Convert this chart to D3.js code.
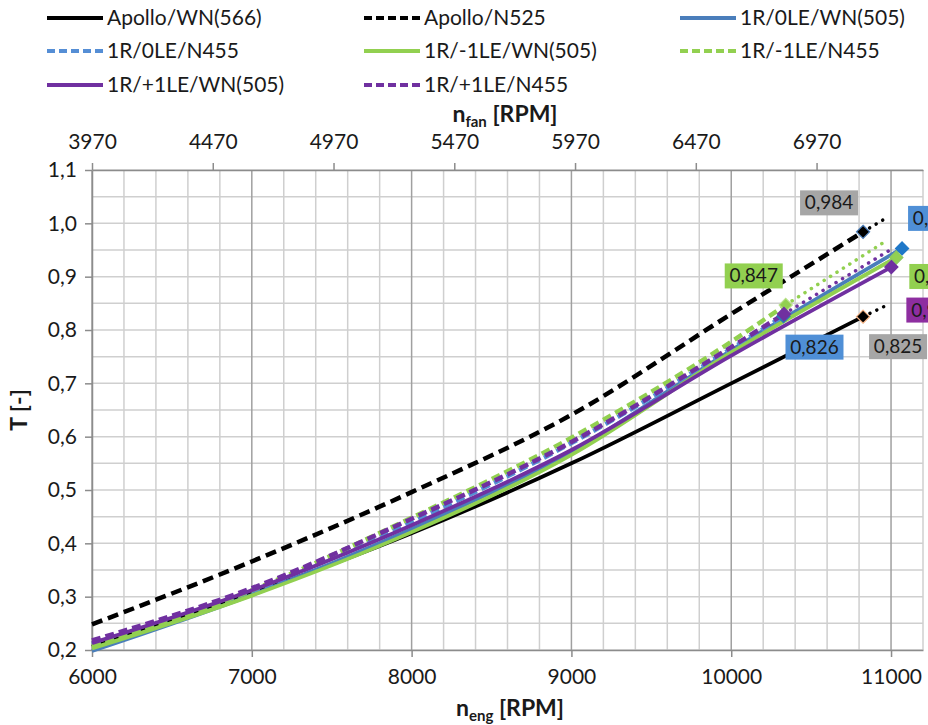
<!DOCTYPE html>
<html>
<head>
<meta charset="utf-8">
<script src="https://cdn.jsdelivr.net/npm/d3@7"></script>
<style>
  body { margin: 0; background: #fff; }
  svg { font-family: Lato, "Open Sans", sans-serif; }
</style>
</head>
<body>
<div id="chart"></div>
<script>
// chart data
const seriesNames = ["Apollo/WN(566)", "Apollo/N525", "1R/0LE/WN(505)", "1R/0LE/N455",
                     "1R/-1LE/WN(505)", "1R/-1LE/N455", "1R/+1LE/WN(505)", "1R/+1LE/N455"];

const engRpm = [
  [6000, 7000, 8000, 9000, 10000, 10825],
  [6000, 7000, 8000, 9000, 10000, 10825],
  [6000, 7000, 8000, 9000, 10000, 11069],
  [6000, 7000, 8000, 9000, 10000, 10327],
  [6000, 7000, 8000, 9000, 10000, 11033],
  [6000, 7000, 8000, 9000, 10000, 10341],
  [6000, 7000, 8000, 9000, 10000, 11002],
  [6000, 7000, 8000, 9000, 10000, 10330]
];
const tValues = [
  [0.206, 0.306, 0.419, 0.550, 0.700, 0.825],
  [0.248, 0.366, 0.496, 0.641, 0.830, 0.984],
  [0.198, 0.303, 0.427, 0.572, 0.762, 0.953],
  [0.210, 0.310, 0.440, 0.588, 0.765, 0.826],
  [0.203, 0.302, 0.421, 0.566, 0.758, 0.936],
  [0.207, 0.312, 0.448, 0.598, 0.778, 0.847],
  [0.213, 0.312, 0.434, 0.575, 0.752, 0.918],
  [0.218, 0.316, 0.446, 0.590, 0.768, 0.830]
];
// dotted trend continuation: [rpm, T] or null
const trendEnds = [[10970, 0.846], [10970, 1.010], null, null, null, [10963, 0.966], null, [10994, 0.950]];
const endLabels = ["0,825", "0,984", "0,953", "0,826", "0,936", "0,847", "0,918", null];

const engTicks = [6000, 7000, 8000, 9000, 10000, 11000];
const fanTicks = [3970, 4470, 4970, 5470, 5970, 6470, 6970];
const tTicks = [0.2, 0.3, 0.4, 0.5, 0.6, 0.7, 0.8, 0.9, 1.0, 1.1];
const fanRatio = 3970 / 6000;

// styles
const styles = [
  {color: "#000000", dash: null, marker: "#000", markerStroke: "#f4b183", box: "#a6a6a6", dx: 35, dy: 30},
  {color: "#000000", dash: "11,6", marker: "#000", markerStroke: "#4f81bd", box: "#a6a6a6", dx: -34, dy: -29},
  {color: "#4a7ebb", dash: null, marker: "#1f78c8", markerStroke: "#1f78c8", box: "#4f8fd6", dx: 35, dy: -30},
  {color: "#558ed5", dash: "9,5", marker: "#2e75b6", markerStroke: "#2e75b6", box: "#4f8fd6", dx: 31, dy: 31},
  {color: "#92d050", dash: null, marker: "#92d050", markerStroke: "#8cc860", box: "#92d050", dx: 42, dy: 19},
  {color: "#92d050", dash: "9,5", marker: "#92d050", markerStroke: "#b8e08a", box: "#92d050", dx: -32, dy: -29},
  {color: "#7030a0", dash: null, marker: "#7030a0", markerStroke: "#7030a0", box: "#8e2ea0", dx: 44, dy: 43},
  {color: "#7030a0", dash: "9,5", marker: "#7030a0", markerStroke: "#7030a0", box: "#8e2ea0", dx: 0, dy: 0}
];

const width = 928, height = 725;
const plot = {left: 92, right: 923, top: 170, bottom: 650};

const svg = d3.select("#chart").append("svg")
  .attr("width", width)
  .attr("height", height);

const x = d3.scaleLinear().domain([6000, 11200]).range([plot.left, plot.right]);
const xFan = d3.scaleLinear().domain([6000 * fanRatio, 11200 * fanRatio]).range([plot.left, plot.right]);
const y = d3.scaleLinear().domain([0.2, 1.1]).range([plot.bottom, plot.top]);

// gridlines
let grid = svg.append("g");
grid.selectAll("line.h")
  .data(d3.range(0, 19).map(i => 0.2 + i * 0.05))
  .enter().append("line")
  .attr("x1", plot.left).attr("x2", plot.right)
  .attr("y1", d => y(d)).attr("y2", d => y(d))
  .attr("stroke", "#cfcfcf").attr("stroke-width", 1.5);
grid.selectAll("line.v")
  .data(d3.range(0, 27).map(i => 6000 + i * 200))
  .enter().append("line")
  .attr("x1", d => x(d)).attr("x2", d => x(d))
  .attr("y1", plot.top).attr("y2", plot.bottom)
  .attr("stroke", d => d % 1000 === 0 ? "#a0a0a0" : "#cfcfcf")
  .attr("stroke-width", 1.5);

const comma = d => d3.format(".1f")(d).replace(".", ",");
const plain = d3.format("d");

// axes
let xAxis = svg.append("g")
  .attr("transform", `translate(0,${plot.bottom})`)
  .call(d3.axisBottom(x).tickValues(engTicks).tickFormat(plain).tickSize(7).tickPadding(12).tickSizeOuter(0));
let fanAxis = svg.append("g")
  .attr("transform", `translate(0,${plot.top})`)
  .call(d3.axisTop(xFan).tickValues(fanTicks).tickFormat(plain).tickSize(7).tickPadding(14).tickSizeOuter(0));
let yAxis = svg.append("g")
  .attr("transform", `translate(${plot.left},0)`)
  .call(d3.axisLeft(y).tickValues(tTicks).tickFormat(comma).tickSize(7).tickPadding(8).tickSizeOuter(0));

[xAxis, fanAxis, yAxis].forEach(function(a) {
  a.select(".domain").attr("stroke", "#8c8c8c").attr("stroke-width", 1.5);
  a.selectAll(".tick line").attr("stroke", "#8c8c8c").attr("stroke-width", 1.5);
  a.selectAll("text").attr("font-size", 21).attr("fill", "#1a1a1a")
    .style("font-family", "Lato, sans-serif");
});

// series lines
const line = d3.line()
  .x(d => x(d[0]))
  .y(d => y(d[1]))
  .curve(d3.curveMonotoneX);

let lines = svg.append("g");
seriesNames.forEach(function(name, i) {
  let pts = engRpm[i].map((r, j) => [r, tValues[i][j]]);
  let last = pts[pts.length - 1];
  if (trendEnds[i]) {
    lines.append("path")
      .attr("d", d3.line().x(d => x(d[0])).y(d => y(d[1]))([last, trendEnds[i]]))
      .attr("fill", "none")
      .attr("stroke", styles[i].color)
      .attr("stroke-width", 3.5)
      .attr("stroke-linecap", "round")
      .attr("stroke-dasharray", "0.1,7.5");
  }
  lines.append("path")
    .datum(pts)
    .attr("fill", "none")
    .attr("stroke", styles[i].color)
    .attr("stroke-width", styles[i].dash ? 4.5 : 3.8)
    .attr("stroke-dasharray", styles[i].dash)
    .attr("d", line);
});

// end markers
seriesNames.forEach(function(name, i) {
  let n = engRpm[i].length - 1;
  lines.append("path")
    .attr("d", d3.symbol().type(d3.symbolDiamond2).size(110)())
    .attr("transform", `translate(${x(engRpm[i][n])},${y(tValues[i][n])})`)
    .attr("fill", styles[i].marker)
    .attr("stroke", styles[i].markerStroke)
    .attr("stroke-width", 1.2);
});

// value labels
let labels = svg.append("g");
seriesNames.forEach(function(name, i) {
  if (!endLabels[i]) return;
  let n = engRpm[i].length - 1;
  let cx = x(engRpm[i][n]) + styles[i].dx;
  let cy = y(tValues[i][n]) + styles[i].dy;
  labels.append("rect")
    .attr("x", cx - 29).attr("y", cy - 12.5)
    .attr("width", 58).attr("height", 25)
    .attr("fill", styles[i].box);
  labels.append("text")
    .attr("x", cx).attr("y", cy + 6.5)
    .attr("text-anchor", "middle")
    .attr("font-size", 19)
    .attr("fill", "#1a1a1a")
    .text(endLabels[i]);
});

// axis titles
let xt = svg.append("text")
  .attr("x", 510).attr("y", 716)
  .attr("text-anchor", "middle")
  .attr("font-size", 23).attr("font-weight", "bold").attr("fill", "#1a1a1a");
xt.append("tspan").text("n");
xt.append("tspan").attr("font-size", 15).attr("dy", 5).text("eng");
xt.append("tspan").attr("dy", -5).text(" [RPM]");

let ft = svg.append("text")
  .attr("x", 505).attr("y", 122)
  .attr("text-anchor", "middle")
  .attr("font-size", 23).attr("font-weight", "bold").attr("fill", "#1a1a1a");
ft.append("tspan").text("n");
ft.append("tspan").attr("font-size", 15).attr("dy", 5).text("fan");
ft.append("tspan").attr("dy", -5).text(" [RPM]");

svg.append("text")
  .attr("transform", `translate(27,410) rotate(-90)`)
  .attr("text-anchor", "middle")
  .attr("font-size", 23).attr("font-weight", "bold").attr("fill", "#1a1a1a")
  .text("T [-]");

// legend
const legendCols = [47, 364, 680];
const legendRows = [18, 51, 85];
let legend = svg.append("g");
seriesNames.forEach(function(name, i) {
  let lx = legendCols[i % 3], ly = legendRows[Math.floor(i / 3)];
  legend.append("line")
    .attr("x1", lx).attr("x2", lx + 56)
    .attr("y1", ly).attr("y2", ly)
    .attr("stroke", styles[i].color)
    .attr("stroke-width", 4)
    .attr("stroke-dasharray", styles[i].dash ? "8,4" : null);
  legend.append("text")
    .attr("x", lx + 60).attr("y", ly + 7)
    .attr("font-size", 21)
    .attr("fill", "#1a1a1a")
    .text(name);
});
</script>
</body>
</html>
